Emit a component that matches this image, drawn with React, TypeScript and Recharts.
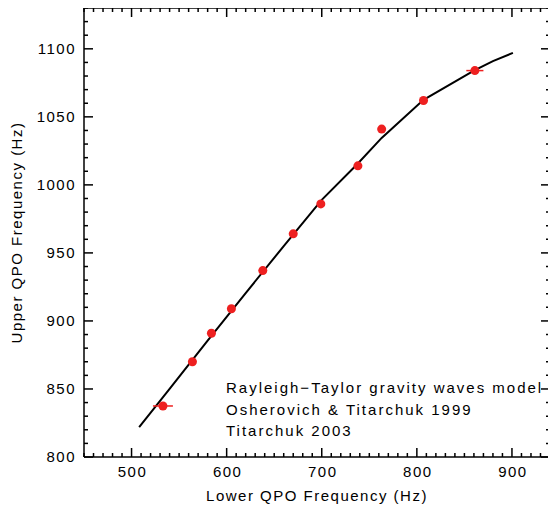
import { Label, Scatter, ScatterChart, XAxis, YAxis } from 'recharts'

// measured QPO pairs (Hz)
const lowerQpo = [533, 564, 584, 605, 638, 670, 699, 738, 763, 807, 861]
const upperQpo = [837.5, 870, 891, 909, 937, 964, 986, 1014, 1041, 1062, 1084]
const lowerErr = [10.5, 0, 0, 0, 0, 0, 0, 0, 0, 0, 9]

// Rayleigh-Taylor model curve
const modelLower = [508, 540, 580, 620, 660, 700, 737, 763, 807, 860, 880, 901]
const modelUpper = [822, 850, 885.5, 920.5, 955, 989, 1015, 1034.5, 1062.5, 1084, 1091, 1097]

const xMajor = [500, 600, 700, 800, 900]
const yMajor = [800, 850, 900, 950, 1000, 1050, 1100]
const X_DOMAIN: [number, number] = [450, 940]
const Y_DOMAIN: [number, number] = [800, 1130]

const notes = [
  'Rayleigh\u2212Taylor gravity waves model',
  'Osherovich & Titarchuk 1999',
  'Titarchuk 2003',
]

const W = 556
const H = 507
const FONT = '"Liberation Sans", Arial, sans-serif'
const GAP = 10
const MAJOR_LEN = 9
const MINOR_LEN = 4
const AXIS = { stroke: '#000', strokeWidth: 1.5 }
const RED = '#ee2020'

const range = (from: number, to: number, step: number) => {
  const out: number[] = []
  for (let v = from; v <= to; v += step) out.push(v)
  return out
}

const xTicks = range(X_DOMAIN[0], X_DOMAIN[1], 10)
const yTicks = range(Y_DOMAIN[0], Y_DOMAIN[1], 10)

const points = lowerQpo.map((x, i) => ({ x, y: upperQpo[i] }))
const model = modelLower.map((x, i) => ({ x, y: modelUpper[i] }))
// horizontal error bars as two-point segments
const errBars = lowerQpo
  .map((x, i) => ({ x, y: upperQpo[i], e: lowerErr[i] }))
  .filter((p) => p.e > 0)
  .map((p) => [
    { x: p.x - p.e, y: p.y },
    { x: p.x + p.e, y: p.y },
  ])

type Side = 'bottom' | 'top' | 'left' | 'right'

const labelStyle = { fontSize: 15, fontFamily: FONT, fill: '#000', letterSpacing: 1.5 }

function makeTick(side: Side, majors: number[], showLabel: boolean) {
  return (props: any) => {
    const { x, y, payload } = props
    const v = payload.value
    const isMajor = majors.includes(v)
    const len = isMajor ? MAJOR_LEN : MINOR_LEN
    let line
    let label = null
    if (side === 'bottom') {
      const ay = y - GAP
      line = <line x1={x} x2={x} y1={ay} y2={ay - len} {...AXIS} />
      if (showLabel && isMajor)
        label = (
          <text x={x + 1} y={ay + 9} dy="0.72em" textAnchor="middle" style={labelStyle}>
            {v}
          </text>
        )
    } else if (side === 'top') {
      const ay = y + GAP
      line = <line x1={x} x2={x} y1={ay} y2={ay + len} {...AXIS} />
    } else if (side === 'left') {
      const ax = x + GAP
      line = <line x1={ax} x2={ax + len} y1={y} y2={y} {...AXIS} />
      if (showLabel && isMajor)
        label = (
          <text x={ax - 8} y={y} dy="0.36em" textAnchor="end" style={labelStyle}>
            {v}
          </text>
        )
    } else {
      const ax = x - GAP
      line = <line x1={ax} x2={ax - len} y1={y} y2={y} {...AXIS} />
    }
    return (
      <g>
        {line}
        {label}
      </g>
    )
  }
}

const noShape = () => <g />

export default function App() {
  return (
    <div
      style={{
        position: 'relative',
        width: W,
        height: H,
        marginTop: -8,
        marginLeft: -8,
        background: '#fff',
      }}
    >
      <ScatterChart width={W} height={H} margin={{ top: 7, right: 5, bottom: 49, left: 83 }}>
        <XAxis
          xAxisId="b"
          type="number"
          dataKey="x"
          domain={X_DOMAIN}
          allowDataOverflow
          ticks={xTicks}
          interval={0}
          height={1}
          tickSize={0}
          tickMargin={GAP}
          tickLine={false}
          tick={makeTick('bottom', xMajor, true)}
          axisLine={AXIS}
        >
          <Label value="Lower QPO Frequency (Hz)" position="bottom" offset={32} style={labelStyle} />
        </XAxis>
        <XAxis
          xAxisId="t"
          orientation="top"
          type="number"
          dataKey="x"
          domain={X_DOMAIN}
          allowDataOverflow
          ticks={xTicks}
          interval={0}
          height={1}
          tickSize={0}
          tickMargin={GAP}
          tickLine={false}
          tick={makeTick('top', xMajor, false)}
          axisLine={AXIS}
        />
        <YAxis
          yAxisId="l"
          type="number"
          dataKey="y"
          domain={Y_DOMAIN}
          allowDataOverflow
          ticks={yTicks}
          interval={0}
          width={1}
          tickSize={0}
          tickMargin={GAP}
          tickLine={false}
          tick={makeTick('left', yMajor, true)}
          axisLine={AXIS}
        >
          <Label
            value="Upper QPO Frequency (Hz)"
            position="left"
            angle={-90}
            offset={66}
            style={{ ...labelStyle, textAnchor: 'middle' }}
          />
        </YAxis>
        <YAxis
          yAxisId="r"
          orientation="right"
          type="number"
          dataKey="y"
          domain={Y_DOMAIN}
          allowDataOverflow
          ticks={yTicks}
          interval={0}
          width={1}
          tickSize={0}
          tickMargin={GAP}
          tickLine={false}
          tick={makeTick('right', yMajor, false)}
          axisLine={AXIS}
        />
        <Scatter
          data={model}
          xAxisId="t"
          yAxisId="r"
          line={{ stroke: '#000', strokeWidth: 2 }}
          lineType="joint"
          shape={noShape}
          isAnimationActive={false}
        />
        {errBars.map((seg, i) => (
          <Scatter
            key={i}
            data={seg}
            xAxisId="b"
            yAxisId="l"
            line={{ stroke: RED, strokeWidth: 1.5 }}
            lineType="joint"
            shape={noShape}
            isAnimationActive={false}
          />
        ))}
        <Scatter
          data={points}
          xAxisId="b"
          yAxisId="l"
          fill={RED}
          shape="circle"
          isAnimationActive={false}
        />
      </ScatterChart>
      <div
        style={{
          position: 'absolute',
          left: 226,
          top: 377,
          fontFamily: FONT,
          fontSize: 15,
          letterSpacing: 2,
          lineHeight: '21.5px',
          color: '#000',
          whiteSpace: 'nowrap',
        }}
      >
        {notes.map((n) => (
          <div key={n}>{n}</div>
        ))}
      </div>
    </div>
  )
}
